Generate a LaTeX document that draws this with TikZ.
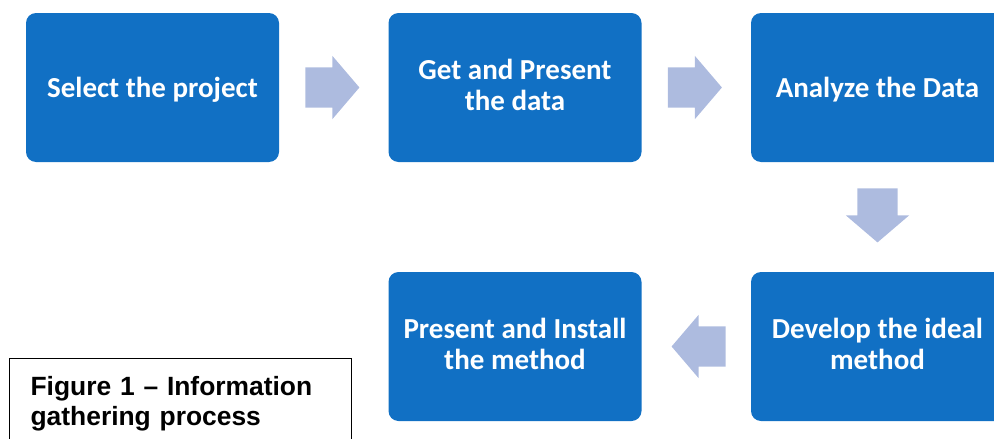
\documentclass[tikz,border=0pt]{standalone}
\usepackage{fontspec}
\setmainfont{Carlito}
\newfontfamily\captionfont{Liberation Sans}
\usetikzlibrary{shapes.arrows,calc}
\definecolor{stepblue}{HTML}{1170C4}
\definecolor{flowarrow}{HTML}{ADBBDF}
\begin{document}
\begin{tikzpicture}[x=1pt,y=-1pt,
  stepbox/.style={fill=stepblue, rounded corners=10pt, minimum width=253pt,
    minimum height=149pt, inner sep=0pt, text=white, align=center,
    font=\fontsize{29}{31}\selectfont\bfseries},
  oneline/.style={text depth=0pt},
  twoline/.style={text depth=6pt},
  flow/.style={single arrow, fill=flowarrow, draw=none, anchor=tail,
    inner xsep=0pt, inner ysep=20pt, minimum height=54pt,
    single arrow head extend=11.5pt, single arrow tip angle=99,
    single arrow head indent=0pt},
  flowdown/.style={flow, inner xsep=20pt, inner ysep=0pt,
    shape border rotate=270},
  captionbox/.style={draw=black, line width=1.2pt, anchor=north west,
    text width=300pt, inner xsep=21pt, inner ysep=17.7pt, align=left,
    font={\captionfont\fontsize{26.4}{30}\selectfont\bfseries}},
  ]
\useasboundingbox (0,0) rectangle (994,439);
\clip (0,0) rectangle (994,439);

% process steps
\node[stepbox, oneline] (s1) at (152.5,87.5) {Select the project};
\node[stepbox, twoline] (s2) at (515,87.5) {Get and Present\\the data};
\node[stepbox, oneline] (s3) at (877.5,87.5) {Analyze the Data};
\node[stepbox, twoline] (s5) at (877.5,346.5) {Develop the ideal\\method};
\node[stepbox, twoline] (s4) at (515,346.5) {Present and Install\\the method};

% block arrows between the steps
\node[flow] (a1) at ($(s1.east)+(26,0)$) {};
\node[flow] (a2) at ($(s2.east)+(26,0)$) {};
\node[flowdown] (a3) at ($(s3.south)+(0,26)$) {};
\node[flow, shape border rotate=180] (a4) at ($(s5.west)+(-25,0)$) {};

% caption
\node[captionbox] (cap) at (9,358) {Figure 1 – Information\\gathering process};
\end{tikzpicture}
\end{document}
